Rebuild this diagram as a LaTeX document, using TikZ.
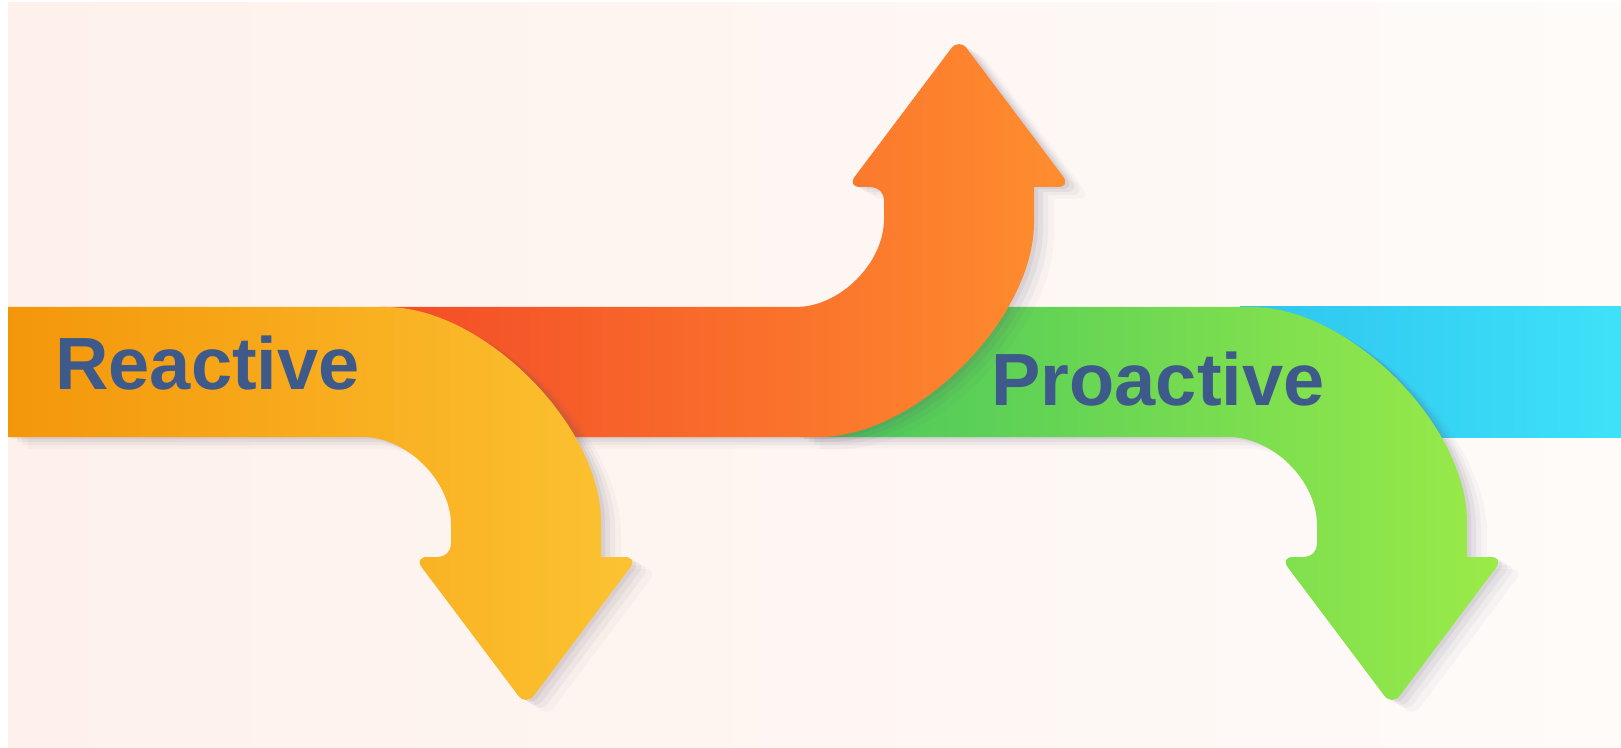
\documentclass[tikz,border=0pt]{standalone}
\usepackage{fontspec}
\newfontfamily\lblfont{Liberation Sans}
\definecolor{labelblue}{HTML}{3D5A8A}
\definecolor{paperL}{HTML}{FEF1EB}
\definecolor{paperR}{HTML}{FEFBF9}
\definecolor{yellowL}{HTML}{F4960A}
\definecolor{yellowR}{HTML}{FCC332}
\definecolor{orangeL}{HTML}{F34B27}
\definecolor{orangeR}{HTML}{FF8E2F}
\definecolor{greenL}{HTML}{46C75C}
\definecolor{greenR}{HTML}{9BEB48}
\definecolor{blueL}{HTML}{2EC4EF}
\definecolor{blueR}{HTML}{3EE2F8}
\definecolor{shadowgrey}{HTML}{5A4F6E}

% A band of height 130 that bends into an arrow.
% #1 shaft centre x, #2 left end x, #3 = 1 (turns down) or -1 (turns up), #4 path options
\newcommand{\bentarrow}[4]{%
  \path[#4]
    (#2,{372-65*(#3)}) -- ({#1-140},{372-65*(#3)})
    .. controls ({#1-43},{372-65*(#3)}) and ({#1+75},{372+53*(#3)}) .. ({#1+75},{372+150*(#3)})
    -- ({#1+75},{372+185*(#3)}) [rounded corners=6.5pt]
    -- ({#1+112},{372+185*(#3)})
    -- (#1,{372+334*(#3)})
    -- ({#1-112},{372+185*(#3)})
    -- ({#1-75},{372+185*(#3)}) [sharp corners]
    -- ({#1-75},{372+153*(#3)})
    .. controls ({#1-75},{372+109*(#3)}) and ({#1-119},{372+65*(#3)}) .. ({#1-163},{372+65*(#3)})
    -- (#2,{372+65*(#3)}) -- cycle;}

% Soft cast shadow built from a few offset, translucent copies
\newcommand{\arrowshadow}[3]{%
  \bentarrow{#1}{#2}{#3}{fill=shadowgrey, fill opacity=0.035, shift={(20,12)}}
  \bentarrow{#1}{#2}{#3}{fill=shadowgrey, fill opacity=0.05, shift={(14,8)}}
  \bentarrow{#1}{#2}{#3}{fill=shadowgrey, fill opacity=0.07, shift={(9,5)}}
  \bentarrow{#1}{#2}{#3}{fill=shadowgrey, fill opacity=0.09, shift={(4,2)}}}

\begin{document}
\begin{tikzpicture}[x=0.5pt,y=-0.5pt,
  lbl/.style={font=\lblfont\bfseries\fontsize{37}{40}\selectfont,
              text=labelblue, inner sep=0pt, anchor=base west}]
  \useasboundingbox (0,0) rectangle (1621,748);

  % paper
  \fill[white] (0,0) rectangle (1621,748);
  \shade[left color=paperL, right color=paperR] (8,3) rectangle (1621,748);

  % straight blue band on the right
  \shade[left color=blueL, right color=blueR] (1240,307) rectangle (1621,437);

  % green arrow turning down
  \arrowshadow{1392}{800}{1}
  \bentarrow{1392}{800}{1}{left color=greenL, right color=greenR}

  % orange arrow turning up
  \arrowshadow{959}{380}{-1}
  \bentarrow{959}{380}{-1}{left color=orangeL, right color=orangeR}

  % yellow arrow turning down
  \arrowshadow{526}{8}{1}
  \bentarrow{526}{8}{1}{left color=yellowL, right color=yellowR}

  % labels
  \node[lbl] (reactive)  at (55,390)  {Reactive};
  \node[lbl] (proactive) at (991,405) {Proactive};
\end{tikzpicture}
\end{document}
